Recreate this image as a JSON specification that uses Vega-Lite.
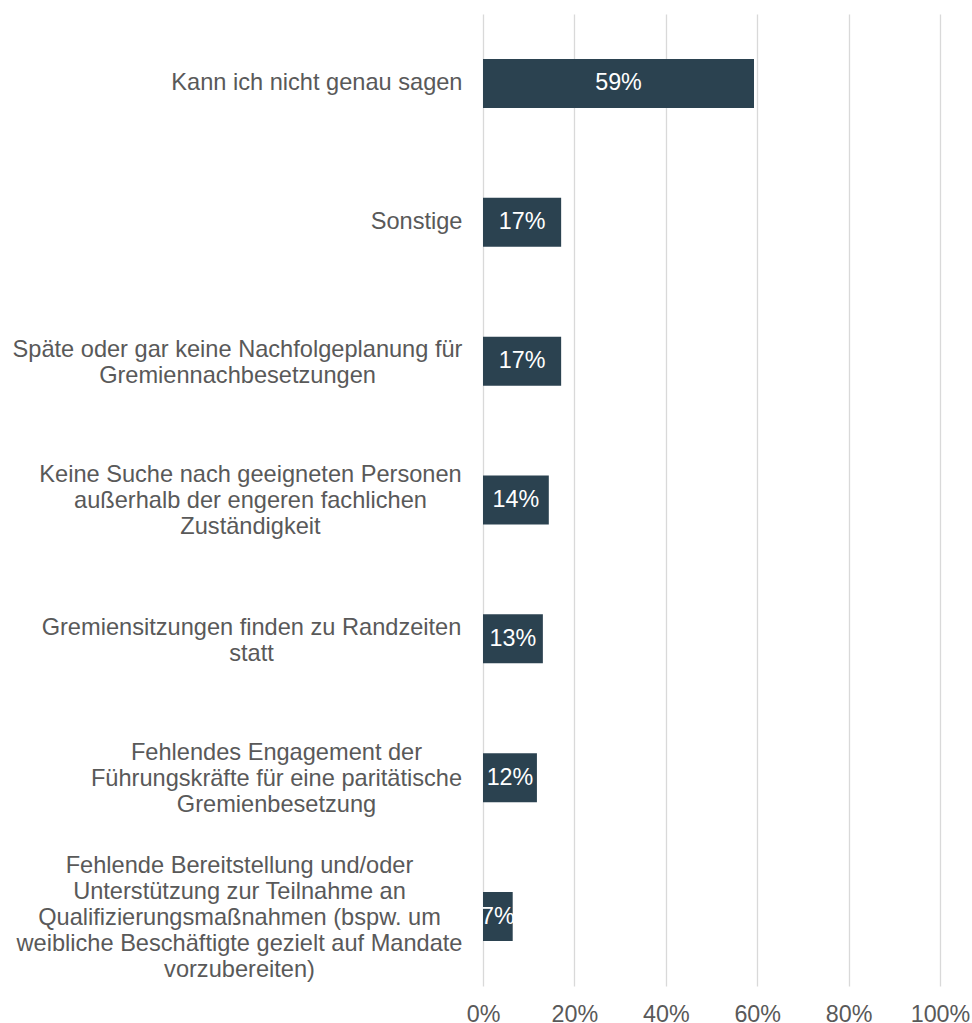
{
  "$schema": "https://vega.github.io/schema/vega-lite/v6.json",
  "autosize": {"type": "none"},
  "width": 457,
  "height": 972,
  "padding": {"left": 483, "top": 14, "right": 32, "bottom": 37},
  "background": "white",
  "config": {
    "view": {"stroke": null},
    "font": "Liberation Sans"
  },
  "data": {
    "values": [
      {"category": "Kann ich nicht genau sagen", "value": 0.593},
      {"category": "Sonstige", "value": 0.171},
      {"category": "Späte oder gar keine Nachfolgeplanung für|Gremiennachbesetzungen", "value": 0.171},
      {"category": "Keine Suche nach geeigneten Personen|außerhalb der engeren fachlichen|Zuständigkeit", "value": 0.144},
      {"category": "Gremiensitzungen finden zu Randzeiten|statt", "value": 0.131},
      {"category": "Fehlendes Engagement der|Führungskräfte für eine paritätische|Gremienbesetzung", "value": 0.118},
      {"category": "Fehlende Bereitstellung und/oder|Unterstützung zur Teilnahme an|Qualifizierungsmaßnahmen (bspw. um|weibliche Beschäftigte gezielt auf Mandate|vorzubereiten)", "value": 0.065}
    ]
  },
  "encoding": {
    "y": {
      "field": "category",
      "type": "nominal",
      "sort": null,
      "scale": {"paddingInner": 0.647, "paddingOuter": 0.3235},
      "axis": {
        "title": null,
        "domain": false,
        "ticks": false,
        "grid": false,
        "labelExpr": "split(datum.label, '|')",
        "labelFont": "Liberation Sans",
        "labelFontSize": 23.6,
        "labelLineHeight": 26,
        "labelColor": "#595959",
        "labelBaseline": "middle",
        "labelAlign": {"condition": {"test": "indexof(datum.value, '|') >= 0", "value": "center"}, "value": "right"},
        "labelPadding": {"condition": [
          {"test": "indexof(datum.value, 'Späte') == 0", "value": 246},
          {"test": "indexof(datum.value, 'Keine') == 0", "value": 233},
          {"test": "indexof(datum.value, 'Gremiensitzungen') == 0", "value": 232},
          {"test": "indexof(datum.value, 'Fehlendes') == 0", "value": 207},
          {"test": "indexof(datum.value, 'Fehlende Bereit') == 0", "value": 244}
        ], "value": 21},
        "labelOffset": {"condition": [
          {"test": "length(split(datum.value, '|')) == 2", "value": -11},
          {"test": "length(split(datum.value, '|')) == 3", "value": -25},
          {"test": "length(split(datum.value, '|')) == 5", "value": -51}
        ], "value": 0},
        "labelLimit": 600
      }
    }
  },
  "layer": [
    {
      "mark": {"type": "bar", "color": "#2b4250"},
      "encoding": {
        "x": {
          "field": "value",
          "type": "quantitative",
          "scale": {"domain": [0, 1], "nice": false},
          "axis": {
            "title": null,
            "format": ".0%",
            "values": [0, 0.2, 0.4, 0.6, 0.8, 1],
            "domain": false,
            "ticks": false,
            "grid": true,
            "gridColor": "#d9d9d9",
            "gridWidth": 1.3,
            "labelFlush": false,
            "labelOverlap": false,
            "labelFont": "Liberation Sans",
            "labelFontSize": 23.3,
            "labelColor": "#595959",
            "labelPadding": 17
          }
        }
      }
    },
    {
      "transform": [{"calculate": "datum.value / 2", "as": "mid"}],
      "mark": {"type": "text", "color": "white", "font": "Liberation Sans", "fontSize": 23.3, "align": "center", "baseline": "middle"},
      "encoding": {
        "x": {"field": "mid", "type": "quantitative"},
        "text": {"field": "value", "type": "quantitative", "format": ".0%"}
      }
    }
  ]
}
